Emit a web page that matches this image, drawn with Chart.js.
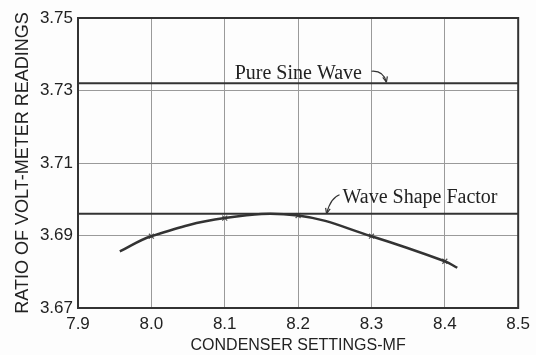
<!DOCTYPE html>
<html>
<head>
<meta charset="utf-8">
<script src="https://cdn.jsdelivr.net/npm/chart.js@4/dist/chart.umd.min.js"></script>
<style>
  html, body { margin: 0; padding: 0; background: #fdfdfd; }
  #wrap { width: 536px; height: 355px; position: relative; }
</style>
</head>
<body>
<div id="wrap"><canvas id="c"></canvas></div>
<script>
// Condenser settings (microfarads) and ratio of volt-meter readings
const xTicks = [7.9, 8.0, 8.1, 8.2, 8.3, 8.4, 8.5];
const yTicks = [3.67, 3.69, 3.71, 3.73, 3.75];

// measured points (marked with small crosses)
const measuredX = [8.0, 8.1, 8.2, 8.3, 8.4];
const measuredY = [3.6898, 3.6948, 3.6955, 3.6898, 3.6829];

// smooth curve drawn through the measurements, with its free ends
const curveX = [7.957, 8.0, 8.1, 8.2, 8.3, 8.4, 8.417];
const curveY = [3.6856, 3.6898, 3.6948, 3.6955, 3.6898, 3.6829, 3.6811];

// reference levels
const pureSineLevel = 3.732;
const waveShapeLevel = 3.696;
const levelNames = ['Pure Sine Wave', 'Wave Shape Factor'];

const ink = '#333333';
const gridInk = '#9a9a9a';
const tickFont = { family: '"Liberation Sans", Arial, sans-serif', size: 17 };

function pts(xs, ys) { return xs.map((x, i) => ({ x: x, y: ys[i] })); }

// Labels with hooked arrows pointing at the reference lines
const notes = {
  id: 'notes',
  afterDatasetsDraw(chart) {
    const { ctx, scales: { x, y } } = chart;
    ctx.save();
    ctx.fillStyle = '#222';
    ctx.strokeStyle = '#333';
    ctx.lineWidth = 1.2;
    ctx.font = '20px "Liberation Serif", "Times New Roman", serif';
    ctx.textBaseline = 'alphabetic';
    ctx.textAlign = 'left';

    // Pure Sine Wave
    const ps = y.getPixelForValue(pureSineLevel);
    ctx.fillText(levelNames[0], x.getPixelForValue(8.1136), ps - 4);
    let sx = x.getPixelForValue(8.300), sy = ps - 12;
    let ex = x.getPixelForValue(8.3204), ey = ps - 1;
    let cx = ex - 3, cy = sy - 1;
    ctx.beginPath();
    ctx.moveTo(sx, sy);
    ctx.quadraticCurveTo(cx, cy, ex, ey);
    ctx.stroke();
    arrowHead(ctx, cx, cy, ex, ey);

    // Wave Shape Factor
    const ws = y.getPixelForValue(waveShapeLevel);
    ctx.fillText(levelNames[1], x.getPixelForValue(8.2605), ws - 11);
    sx = x.getPixelForValue(8.2565); sy = ws - 19;
    ex = x.getPixelForValue(8.2388); ey = ws;
    cx = sx - 9; cy = sy + 3;
    ctx.beginPath();
    ctx.moveTo(sx, sy);
    ctx.quadraticCurveTo(cx, cy, ex, ey);
    ctx.stroke();
    arrowHead(ctx, cx, cy, ex, ey);

    ctx.restore();
  }
};

function arrowHead(ctx, fx, fy, tx, ty) {
  const a = Math.atan2(ty - fy, tx - fx);
  const len = 6;
  ctx.beginPath();
  ctx.moveTo(tx, ty);
  ctx.lineTo(tx - len * Math.cos(a - 0.4), ty - len * Math.sin(a - 0.4));
  ctx.moveTo(tx, ty);
  ctx.lineTo(tx - len * Math.cos(a + 0.4), ty - len * Math.sin(a + 0.4));
  ctx.stroke();
}

// Heavy frame round the plotting area
const frame = {
  id: 'frame',
  afterDraw(chart) {
    const { ctx, chartArea: a } = chart;
    ctx.save();
    ctx.strokeStyle = ink;
    ctx.lineWidth = 2;
    ctx.strokeRect(a.left, a.top, a.right - a.left, a.bottom - a.top);
    ctx.restore();
  }
};

new Chart(document.getElementById('c'), {
  type: 'scatter',
  data: {
    datasets: [
      {
        label: levelNames[0],
        data: pts([xTicks[0], xTicks[xTicks.length - 1]], [pureSineLevel, pureSineLevel]),
        showLine: true, borderColor: ink, borderWidth: 2, pointRadius: 0
      },
      {
        label: levelNames[1],
        data: pts([xTicks[0], xTicks[xTicks.length - 1]], [waveShapeLevel, waveShapeLevel]),
        showLine: true, borderColor: ink, borderWidth: 2, pointRadius: 0
      },
      {
        label: 'curve',
        data: pts(curveX, curveY),
        showLine: true, borderColor: ink, borderWidth: 2.5, tension: 0.4, pointRadius: 0
      },
      {
        label: 'measured',
        data: pts(measuredX, measuredY),
        showLine: false, pointStyle: 'crossRot', pointRadius: 3.5,
        borderColor: '#555', borderWidth: 1.2
      }
    ]
  },
  options: {
    responsive: true,
    maintainAspectRatio: false,
    animation: false,
    devicePixelRatio: 1,
    layout: { padding: { top: 18, right: 17, left: 0, bottom: 0 } },
    plugins: { legend: { display: false }, tooltip: { enabled: false } },
    scales: {
      x: {
        type: 'linear',
        min: xTicks[0], max: xTicks[xTicks.length - 1],
        afterBuildTicks(s) { s.ticks = xTicks.map(v => ({ value: v })); },
        afterFit(s) { s.height = 47; },
        grid: { color: gridInk, lineWidth: 1, drawTicks: false },
        border: { display: false },
        ticks: {
          padding: 6, color: '#222', font: tickFont, maxRotation: 0, autoSkip: false,
          callback: v => v.toFixed(1)
        },
        title: {
          display: true, text: 'CONDENSER SETTINGS-MF', color: '#222',
          font: { family: '"Liberation Sans", Arial, sans-serif', size: 16, lineHeight: 1 },
          padding: { top: 0, bottom: 1 }
        }
      },
      y: {
        type: 'linear',
        min: yTicks[0], max: yTicks[yTicks.length - 1],
        afterBuildTicks(s) { s.ticks = yTicks.map(v => ({ value: v })); },
        afterFit(s) { s.width = 78; },
        grid: { color: gridInk, lineWidth: 1, drawTicks: false },
        border: { display: false },
        ticks: {
          padding: 5, color: '#222', font: tickFont, autoSkip: false,
          callback: v => v.toFixed(2)
        },
        title: {
          display: true, text: 'RATIO OF VOLT-METER READINGS', color: '#222',
          font: { family: '"Liberation Sans", Arial, sans-serif', size: 18, lineHeight: 1 },
          padding: { top: 14, bottom: 0 }
        }
      }
    }
  },
  plugins: [notes, frame]
});
</script>
</body>
</html>
